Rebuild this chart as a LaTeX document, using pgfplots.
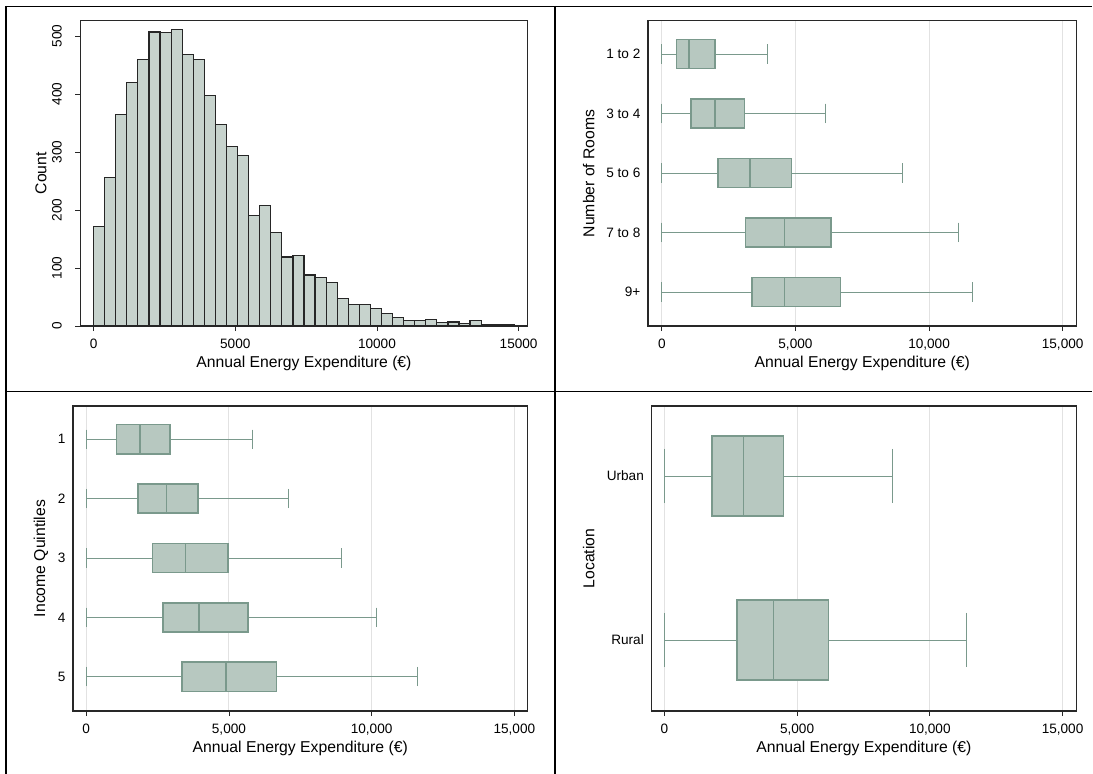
\documentclass[border=0pt]{standalone}
\usepackage{fontspec}
\setmainfont{Liberation Sans}
\usepackage{pgfplots}
\pgfplotsset{compat=1.18}
\usepgfplotslibrary{statistics}
\definecolor{barfill}{RGB}{199,211,205}
\definecolor{boxfill}{RGB}{183,200,192}
\definecolor{boxedge}{RGB}{122,153,140}
\definecolor{gridc}{RGB}{226,226,226}
\definecolor{framec}{RGB}{40,40,40}

\pgfplotsset{
  base/.style={
    scale only axis,
    anchor=north west,
    axis line style={framec, line width=0.8pt},
    tick align=outside,
    xtick pos=left, ytick pos=left,
    scaled x ticks=false, scaled y ticks=false,
    major tick length=3.75pt,
    tick style={framec, line width=0.6pt},
    /pgf/number format/assume math mode=true,
    tick label style={font=\fontsize{10.2}{12}\selectfont},
    label style={font=\fontsize{11.8}{14}\selectfont},
    xticklabel style={anchor=base, yshift=-13.2pt},
    xtick={0,5000,10000,15000},
    xlabel={Annual Energy Expenditure (€)},
    xlabel style={at={(axis description cs:0.5,-0.124)}, anchor=center},
  },
  boxp/.style={
    base,
    xmajorgrids, grid style={gridc, line width=0.75pt},
    y dir=reverse,
    ytick style={draw=none},
    yticklabel style={anchor=east, inner sep=0pt, xshift=-1.8pt},
    /pgf/number format/1000 sep={,},
    boxplot/box extend=0.49,
    boxplot/whisker extend=0.33,
    boxplot/every whisker/.append style={line width=0.7pt},
  },
  bx/.style={draw=boxedge, fill=boxfill, line width=1.1pt, solid, mark=none},
}

\begin{document}
\begin{tikzpicture}
\useasboundingbox (0pt,0pt) rectangle (819.75pt,-580.5pt);
% frame lines
\draw[black, line width=1.5pt] (4.5pt,-4.5pt) -- (4.5pt,-580.5pt);
\draw[black, line width=1.1pt] (4.5pt,-4.9pt) -- (819pt,-4.9pt);
\draw[black, line width=1.5pt] (416.25pt,-4.5pt) -- (416.25pt,-580.5pt);
\draw[black, line width=0.9pt] (4.5pt,-293.8pt) -- (819pt,-293.8pt);

% Panel 1: histogram
\begin{axis}[base,
  at={(60.3pt,-15.525pt)}, width=335.325pt, height=228.975pt,
  xmin=-466, xmax=15314, ymin=0, ymax=526.4,
  ytick={0,100,200,300,400,500},
  /pgf/number format/1000 sep={},
  yticklabel style={rotate=90, anchor=base, yshift=10.35pt},
  ylabel={Count},
  ylabel style={at={(axis description cs:-0.0881,0.5)}, anchor=center, rotate=0},
]
\addplot[ybar interval, fill=barfill, draw=black!85, line width=0.9pt] coordinates {
(0,171) (390.8,256) (781.6,364) (1172.4,420) (1563.2,459) (1954,507) (2344.8,506)
(2735.6,511) (3126.4,468) (3517.2,460) (3908,397) (4298.8,347) (4689.6,309)
(5080.4,294) (5471.2,190) (5862,208) (6252.8,161) (6643.6,119) (7034.4,122)
(7425.2,88) (7816,84) (8206.8,75) (8597.6,48) (8988.4,37) (9379.2,37) (9770,30)
(10160.8,21) (10551.6,14) (10942.4,9) (11333.2,9) (11724,11) (12114.8,6)
(12505.6,7) (12896.4,4) (13287.2,9) (13678,2) (14068.8,3) (14459.6,3) (14850.4,0)
};
\end{axis}

% Panel 2: rooms
\begin{axis}[boxp,
  at={(486pt,-15.525pt)}, width=321.375pt, height=228.975pt,
  xmin=-517, xmax=15518, ymin=0.44, ymax=5.571,
  ytick={1,2,3,4,5}, yticklabels={1 to 2,3 to 4,5 to 6,7 to 8,9+},
  ylabel={Number of Rooms},
  ylabel style={at={(axis description cs:-0.138,0.5)}, anchor=center},
]
\addplot[bx, boxplot prepared={draw position=1, lower whisker=0, lower quartile=557, median=1023, upper quartile=1982, upper whisker=3950}] coordinates {};
\addplot[bx, boxplot prepared={draw position=2, lower whisker=0, lower quartile=1088, median=1982, upper quartile=3095, upper whisker=6139}] coordinates {};
\addplot[bx, boxplot prepared={draw position=3, lower whisker=0, lower quartile=2111, median=3302, upper quartile=4843, upper whisker=8988}] coordinates {};
\addplot[bx, boxplot prepared={draw position=4, lower whisker=0, lower quartile=3134, median=4584, upper quartile=6333, upper whisker=11098}] coordinates {};
\addplot[bx, boxplot prepared={draw position=5, lower whisker=0, lower quartile=3380, median=4597, upper quartile=6682, upper whisker=11629}] coordinates {};
\end{axis}

% Panel 3: income quintiles
\begin{axis}[boxp,
  at={(54.75pt,-304.5pt)}, width=340.875pt, height=228.75pt,
  xmin=-463, xmax=15461, ymin=0.439, ymax=5.578,
  ytick={1,2,3,4,5}, yticklabels={1,2,3,4,5},
  ylabel={Income Quintiles},
  ylabel style={at={(axis description cs:-0.0704,0.5)}, anchor=center},
]
\addplot[bx, boxplot prepared={draw position=1, lower whisker=0, lower quartile=1064, median=1878, upper quartile=2942, upper whisker=5834}] coordinates {};
\addplot[bx, boxplot prepared={draw position=2, lower whisker=0, lower quartile=1815, median=2817, upper quartile=3919, upper whisker=7074}] coordinates {};
\addplot[bx, boxplot prepared={draw position=3, lower whisker=0, lower quartile=2316, median=3481, upper quartile=4970, upper whisker=8952}] coordinates {};
\addplot[bx, boxplot prepared={draw position=4, lower whisker=0, lower quartile=2692, median=3944, upper quartile=5672, upper whisker=10179}] coordinates {};
\addplot[bx, boxplot prepared={draw position=5, lower whisker=0, lower quartile=3355, median=4895, upper quartile=6661, upper whisker=11606}] coordinates {};
\end{axis}

% Panel 4: location
\begin{axis}[boxp,
  at={(488.625pt,-304.5pt)}, width=318.6pt, height=228.75pt,
  xmin=-482, xmax=15518, ymin=0.573, ymax=2.433,
  ytick={1,2}, yticklabels={Urban,Rural},
  ylabel={Location},
  ylabel style={at={(axis description cs:-0.1476,0.5)}, anchor=center},
]
\addplot[bx, boxplot prepared={draw position=1, lower whisker=0, lower quartile=1799, median=2973, upper quartile=4486, upper whisker=8580}] coordinates {};
\addplot[bx, boxplot prepared={draw position=2, lower whisker=0, lower quartile=2738, median=4121, upper quartile=6194, upper whisker=11384}] coordinates {};
\end{axis}
\end{tikzpicture}
\end{document}
